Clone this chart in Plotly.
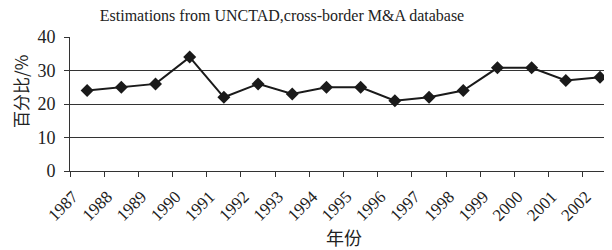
import plotly.graph_objects as go

years = ["1987", "1988", "1989", "1990", "1991", "1992", "1993", "1994",
         "1995", "1996", "1997", "1998", "1999", "2000", "2001", "2002"]
share = [24, 25, 26, 34, 22, 26, 23, 25, 25, 21, 22, 24, 30.8, 30.8, 27, 28]
y_ticks = [0, 10, 20, 30, 40]

# page body has an 8px margin, so the figure is drawn 8px right/down
OFF = 8
W, H = 612 - OFF, 250 - OFF
L, R, T = 70 - OFF, 0, 37 - OFF
B = H - (171 - OFF)
PW, PH = W - L - R, H - T - B

serif = "Liberation Serif, Times New Roman, serif"
cjk = "Noto Sans CJK SC, sans-serif"

fig = go.Figure()
fig.add_trace(go.Scatter(
    x=years, y=share, mode="lines+markers",
    line=dict(color="#1a1a1a", width=2),
    marker=dict(symbol="diamond", size=10, color="#1a1a1a"),
    showlegend=False, cliponaxis=False,
))

fig.update_layout(
    width=W, height=H,
    margin=dict(l=L, r=R, t=T, b=B, pad=0, autoexpand=False),
    paper_bgcolor="white", plot_bgcolor="white",
    title=dict(text="Estimations from UNCTAD,cross-border M&A database",
               font=dict(family=serif, size=16, color="#222"),
               x=(282 - OFF) / W, xanchor="center", xref="container",
               y=1 - (15 - OFF) / H, yanchor="middle", yref="container"),
    xaxis=dict(type="category", range=[-0.5, 15.35], automargin=False,
               showgrid=False, showline=True, linecolor="#333", linewidth=1,
               ticks="outside", tickson="boundaries", ticklen=5, tickcolor="#333",
               tickangle=-45, ticklabelshift=-14, ticklabelstandoff=8,
               tickfont=dict(family=serif, size=17, color="#222")),
    yaxis=dict(range=[0, 40], tickvals=y_ticks, automargin=False,
               showgrid=True, gridcolor="#333", gridwidth=1,
               showline=True, linecolor="#333", linewidth=1,
               ticks="outside", ticklen=5, tickcolor="#333",
               ticklabelstandoff=5, zeroline=False,
               tickfont=dict(family=serif, size=18, color="#222")),
    annotations=[
        dict(text="百分比/%", xref="paper", yref="paper",
             x=-(L - (20 - OFF)) / PW, y=(H - B - (92 - OFF)) / PH,
             xanchor="center", yanchor="middle", textangle=-90, showarrow=False,
             font=dict(family=cjk, size=17, color="#222")),
        dict(text="年份", xref="paper", yref="paper",
             x=(344 - OFF - L) / PW, y=-((237 - OFF) - (H - B)) / PH,
             xanchor="center", yanchor="middle", showarrow=False,
             font=dict(family=cjk, size=18, color="#222")),
    ],
)

fig.write_html("out.html")
